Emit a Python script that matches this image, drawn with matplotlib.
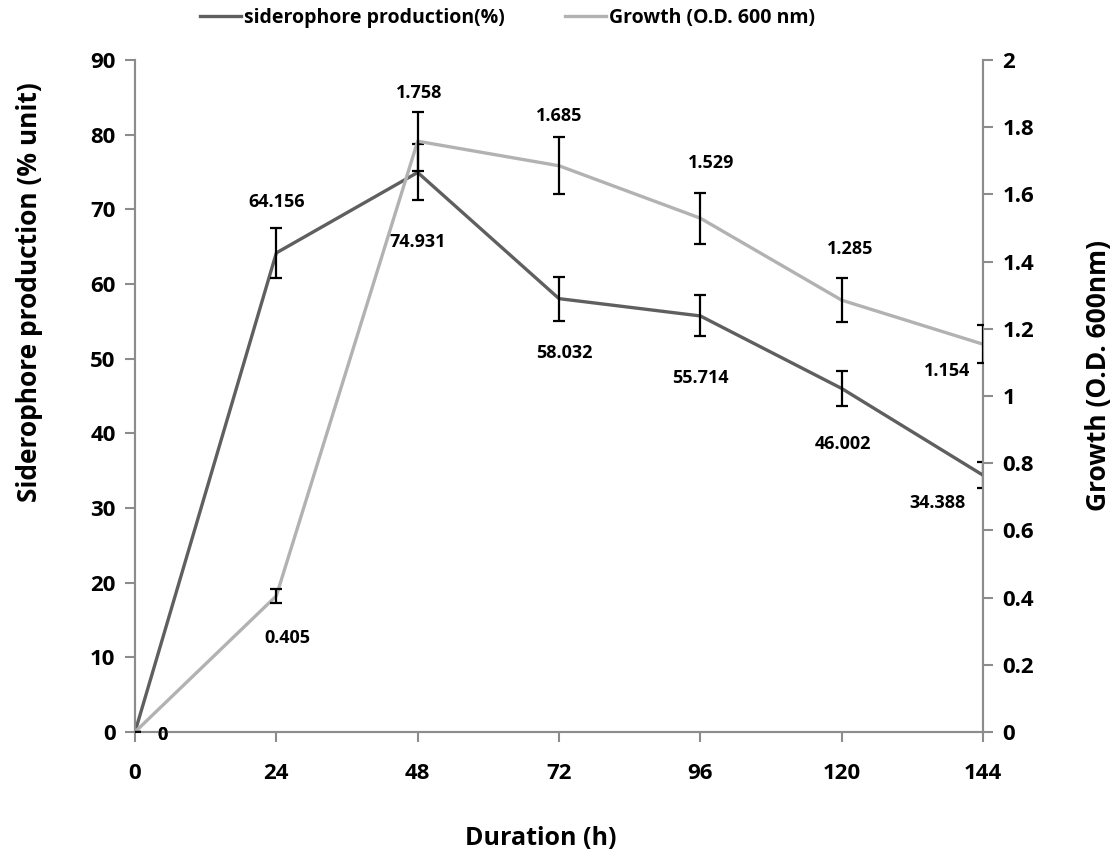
import matplotlib
matplotlib.use("Agg")
from matplotlib import pyplot as plt

plt.rcParams['font.family'] = ['Open Sans', 'DejaVu Sans']
plt.rcParams['font.weight'] = 'bold'

# data
hours = [0, 24, 48, 72, 96, 120, 144]
siderophore = [0, 64.156, 74.931, 58.032, 55.714, 46.002, 34.388]
siderophore_err = [0, 3.3, 3.75, 2.95, 2.75, 2.3, 1.7]
growth = [0, 0.405, 1.758, 1.685, 1.529, 1.285, 1.154]
growth_err = [0, 0.021, 0.088, 0.085, 0.076, 0.065, 0.057]

# label offsets (points) for each data label
sid_off = [(20, -2), (0, 37), (0, -50), (4, -39), (0, -45), (1, -40), (-33, -20)]
gro_off = [(20, -2), (8, -30), (1, 35), (0, 36), (8, 40), (6, 37), (-26, -19)]

dark = '#5f5f5f'
light = '#b2b2b2'
axis_c = '#8c8c8c'

fig = plt.figure(figsize=(11.13, 8.56), dpi=100)
ax = fig.add_axes([0.1213, 0.1449, 0.7619, 0.7851])
ax2 = ax.twinx()

l1, = ax.plot(hours, siderophore, color=dark, lw=2.4, zorder=3,
              label='siderophore production(%)')
ax.errorbar(hours, siderophore, yerr=siderophore_err, fmt='none', ecolor='black',
            elinewidth=1.6, capsize=4.5, capthick=1.6, zorder=4)
l2, = ax2.plot(hours, growth, color=light, lw=2.4, zorder=3,
               label='Growth (O.D. 600 nm)')
ax2.errorbar(hours, growth, yerr=growth_err, fmt='none', ecolor='black',
             elinewidth=1.6, capsize=4.5, capthick=1.6, zorder=4)

for x, y, off in zip(hours, siderophore, sid_off):
    ax.annotate('%g' % y, (x, y), xytext=off, textcoords='offset points',
                ha='center', va='center', fontsize=13, fontweight='bold')
for x, y, off in zip(hours, growth, gro_off):
    ax2.annotate('%g' % y, (x, y), xytext=off, textcoords='offset points',
                 ha='center', va='center', fontsize=13, fontweight='bold')

ax.set_xlim(0, 144)
ax.set_ylim(0, 90)
ax2.set_ylim(0, 2)
ax.set_xticks(hours)
ax.set_yticks(range(0, 91, 10))
ax2.set_yticks([0, 0.2, 0.4, 0.6, 0.8, 1, 1.2, 1.4, 1.6, 1.8, 2])
ax2.set_yticklabels(['0', '0.2', '0.4', '0.6', '0.8', '1', '1.2', '1.4', '1.6', '1.8', '2'])

for a in (ax, ax2):
    a.spines['top'].set_visible(False)
    for s in ('left', 'right', 'bottom'):
        a.spines[s].set_color(axis_c)
        a.spines[s].set_linewidth(1.5)
    a.tick_params(direction='out', length=7, width=1.5, color=axis_c,
                  labelsize=16, pad=7)
ax.tick_params(axis='x', pad=15)

ax.set_xlabel('Duration (h)', fontsize=18, fontweight='bold')
ax.xaxis.set_label_coords(0.478, -0.14)
ax.set_ylabel('Siderophore production (% unit)', fontsize=19, fontweight='bold')
ax.yaxis.set_label_coords(-0.108, 0.655)
ax2.set_ylabel('Growth (O.D. 600nm)', fontsize=19, fontweight='bold')
ax2.yaxis.set_label_coords(1.12, 0.53)

# two legend entries placed separately across the top
leg1 = fig.legend(handles=[l1], loc='upper left', bbox_to_anchor=(0.1727, 1.0),
                  frameon=False, borderaxespad=0, handlelength=2.1, handletextpad=0.15,
                  prop={'weight': 'bold', 'size': 14})
fig.legend(handles=[l2], loc='upper left', bbox_to_anchor=(0.5006, 1.0),
           frameon=False, borderaxespad=0, handlelength=2.1, handletextpad=0.15,
           prop={'weight': 'bold', 'size': 14})

plt.savefig('out.png', dpi=100)
